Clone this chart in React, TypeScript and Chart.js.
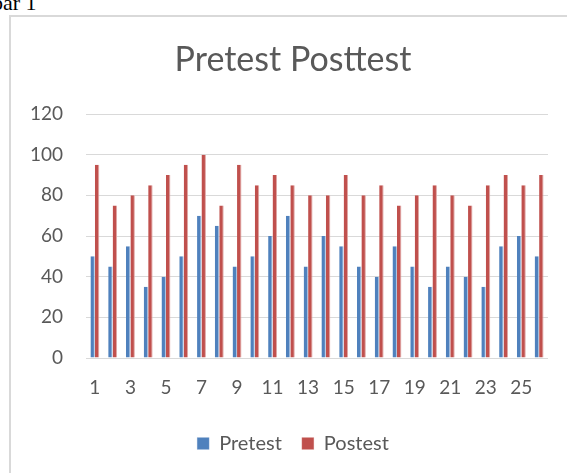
import React, { useEffect, useRef } from "react";
import { Chart, registerables } from "chart.js";

Chart.register(...registerables);

const categories = ["1","2","3","4","5","6","7","8","9","10","11","12","13","14","15","16","17","18","19","20","21","22","23","24","25","26"];
const pretest = [50,45,55,35,40,50,70,65,45,50,60,70,45,60,55,45,40,55,45,35,45,40,35,55,60,50];
const postest = [95,75,80,85,90,95,100,75,95,85,90,85,80,80,90,80,85,75,80,85,80,75,85,90,85,90];
const yTicks = [0,20,40,60,80,100,120];
const titleText = "Pretest Posttest";
const seriesNames = ["Pretest", "Postest"];

const FONT = "Lato, 'Open Sans', sans-serif";
const TEXT = "#595959";

export default function App() {
  const ref = useRef<HTMLCanvasElement | null>(null);

  useEffect(() => {
    if (!ref.current) return;
    const chart = new Chart(ref.current, {
      type: "bar",
      data: {
        labels: categories,
        datasets: [
          {
            label: seriesNames[0],
            data: pretest,
            backgroundColor: "#4F81BD",
            borderColor: "#A9C0DE",
            borderWidth: { top: 0, left: 0, bottom: 0, right: 1 },
            borderSkipped: false,
            categoryPercentage: 0.5,
            barPercentage: 1,
            yAxisID: "y",
          },
          {
            label: seriesNames[1],
            data: postest,
            backgroundColor: "#C0504D",
            borderColor: "#E0A8A6",
            borderWidth: { top: 0, left: 0, bottom: 0, right: 1 },
            borderSkipped: false,
            categoryPercentage: 0.5,
            barPercentage: 1,
            yAxisID: "y",
          },
        ],
      },
      options: {
        responsive: false,
        animation: false,
        devicePixelRatio: 1,
        layout: { padding: { left: 20, right: 1, top: 20, bottom: 9.5 } },
        plugins: {
          title: {
            display: true,
            text: titleText,
            color: TEXT,
            font: { family: FONT, size: 34, weight: "normal", lineHeight: 1.2 },
            padding: { top: 20, bottom: 33.2 },
          },
          legend: {
            display: true,
            position: "bottom",
            labels: {
              color: TEXT,
              font: { family: FONT, size: 20 },
              boxWidth: 12,
              boxHeight: 12,
              padding: 20,
            },
          },
          tooltip: { enabled: false },
        },
        scales: {
          x: {
            grid: { display: false, drawTicks: false },
            border: { display: false },
            ticks: {
              color: TEXT,
              font: { family: FONT, size: 19 },
              autoSkip: false,
              maxRotation: 0,
              padding: 18,
              callback: (_v: any, i: number) => (i % 2 === 0 ? categories[i] : ""),
            },
            afterFit: (s: any) => { s.height = 55.5; },
          },
          y: {
            position: "left",
            min: yTicks[0],
            max: yTicks[yTicks.length - 1],
            grid: { color: "#D9D9D9", lineWidth: 1, drawTicks: false },
            border: { display: false },
            afterBuildTicks: (s: any) => { s.ticks = yTicks.map((v) => ({ value: v })); },
            ticks: {
              color: TEXT,
              font: { family: FONT, size: 19 },
              padding: 23,
            },
            afterFit: (s: any) => { s.width = 66; },
          },
          yRight: {
            type: "linear",
            position: "right",
            min: yTicks[0],
            max: yTicks[yTicks.length - 1],
            grid: { display: false, drawOnChartArea: false, drawTicks: false },
            border: { display: false },
            ticks: { display: false },
            afterFit: (s: any) => { s.width = 18; },
          },
        },
      },
    });
    return () => chart.destroy();
  }, []);

  return (
    <div style={{ position: "fixed", left: 0, top: 0, width: 567, height: 473, overflow: "hidden", background: "#fff" }}>
      <div
        style={{
          position: "absolute",
          left: -8,
          top: -10,
          fontFamily: "'Liberation Serif', 'Times New Roman', serif",
          fontSize: 22,
          lineHeight: "normal",
          color: "#000",
          whiteSpace: "nowrap",
        }}
      >
        bar 1
      </div>
      <div
        style={{
          position: "absolute",
          left: 9,
          top: 15,
          width: 620,
          height: 520,
          border: "2px solid #D9D9D9",
          boxSizing: "border-box",
        }}
      />
      <canvas ref={ref} width={567} height={473} style={{ position: "absolute", left: 0, top: 0, width: 567, height: 473 }} />
    </div>
  );
}
